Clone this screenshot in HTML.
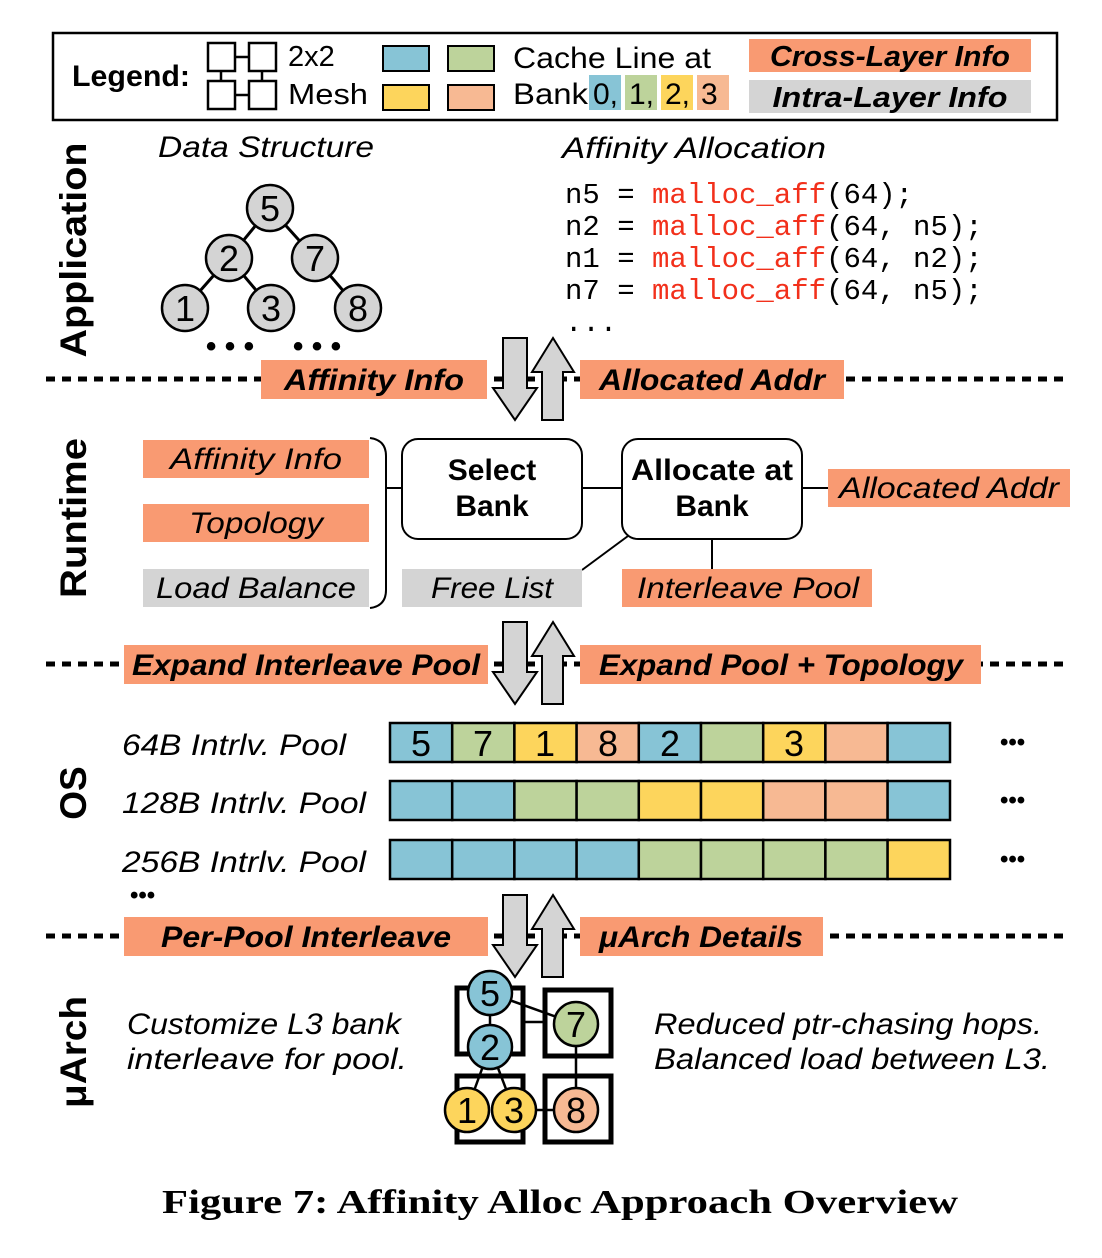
<!DOCTYPE html>
<html><head><meta charset="utf-8"><style>
html,body{margin:0;padding:0;background:#fff;width:1102px;height:1258px;overflow:hidden}
svg{display:block}
text{font-family:"Liberation Sans",sans-serif;fill:#000}
.b{font-weight:bold}
.i{font-style:italic}
.m{font-family:"Liberation Mono",monospace;font-size:29px}
.r{fill:#f2301b}
</style></head><body>
<svg width="1102" height="1258" viewBox="0 0 1102 1258" xmlns="http://www.w3.org/2000/svg">
<!-- Legend -->
<rect x="53" y="33" width="1004" height="87" fill="#fff" stroke="#000" stroke-width="2.5"/>
<text x="72" y="86" class="b" font-size="30" textLength="118" lengthAdjust="spacingAndGlyphs">Legend:</text>
<g fill="#fff" stroke="#000" stroke-width="2.5">
<rect x="208" y="43" width="27" height="28"/><rect x="249" y="43" width="27" height="28"/>
<rect x="208" y="81" width="27" height="28"/><rect x="249" y="81" width="27" height="28"/>
<line x1="235" y1="57" x2="249" y2="57"/><line x1="235" y1="95" x2="249" y2="95"/>
<line x1="221" y1="71" x2="221" y2="81"/><line x1="262" y1="71" x2="262" y2="81"/>
</g>
<text x="288" y="66" font-size="29">2x2</text>
<text x="288" y="104" font-size="29" textLength="80" lengthAdjust="spacingAndGlyphs">Mesh</text>
<g stroke="#000" stroke-width="2">
<rect x="383" y="46" width="46" height="25" fill="#87c4d6"/><rect x="448" y="46" width="46" height="25" fill="#bdd39b"/>
<rect x="383" y="85" width="46" height="25" fill="#fdd55c"/><rect x="448" y="85" width="46" height="25" fill="#f7b993"/>
</g>
<text x="513" y="68" font-size="30" textLength="198" lengthAdjust="spacingAndGlyphs">Cache Line at</text>
<text x="513" y="104" font-size="30" textLength="75" lengthAdjust="spacingAndGlyphs">Bank</text>
<rect x="589" y="75" width="32" height="35" fill="#87c4d6"/><rect x="625" y="75" width="32" height="35" fill="#bdd39b"/>
<rect x="661" y="75" width="32" height="35" fill="#fdd55c"/><rect x="697" y="75" width="32" height="35" fill="#f7b993"/>
<text x="593" y="104" font-size="30">0,</text><text x="629" y="104" font-size="30">1,</text>
<text x="665" y="104" font-size="30">2,</text><text x="701" y="104" font-size="30">3</text>
<rect x="749" y="39" width="282" height="33" fill="#f99a72"/>
<rect x="749" y="80" width="282" height="33" fill="#d4d4d4"/>
<text x="890" y="66" class="b i" font-size="29" text-anchor="middle" textLength="240" lengthAdjust="spacingAndGlyphs">Cross-Layer Info</text>
<text x="890" y="107" class="b i" font-size="29" text-anchor="middle" textLength="235" lengthAdjust="spacingAndGlyphs">Intra-Layer Info</text>

<!-- Layer labels -->
<text transform="translate(86,250) rotate(-90)" class="b" font-size="37" text-anchor="middle" textLength="215" lengthAdjust="spacingAndGlyphs">Application</text>
<text transform="translate(86,518) rotate(-90)" class="b" font-size="37" text-anchor="middle" textLength="160" lengthAdjust="spacingAndGlyphs">Runtime</text>
<text transform="translate(86,793) rotate(-90)" class="b" font-size="37" text-anchor="middle">OS</text>
<text transform="translate(86,1052) rotate(-90)" class="b" font-size="37" text-anchor="middle" textLength="112" lengthAdjust="spacingAndGlyphs">μArch</text>

<!-- Application -->
<text x="266" y="157" class="i" font-size="30" text-anchor="middle" textLength="216" lengthAdjust="spacingAndGlyphs">Data Structure</text>
<text x="694" y="158" class="i" font-size="30" text-anchor="middle" textLength="264" lengthAdjust="spacingAndGlyphs">Affinity Allocation</text>
<g stroke="#000" stroke-width="3">
<line x1="270" y1="208" x2="229" y2="258"/><line x1="270" y1="208" x2="315" y2="258"/>
<line x1="229" y1="258" x2="185" y2="308"/><line x1="229" y1="258" x2="271" y2="308"/><line x1="315" y1="258" x2="358" y2="308"/>
</g>
<g fill="#d4d4d4" stroke="#000" stroke-width="2.5">
<circle cx="270" cy="208" r="23"/><circle cx="229" cy="258" r="23"/><circle cx="315" cy="258" r="23"/>
<circle cx="185" cy="308" r="23"/><circle cx="271" cy="308" r="23"/><circle cx="358" cy="308" r="23"/>
</g>
<g font-size="36" text-anchor="middle">
<text x="270" y="221">5</text><text x="229" y="271">2</text><text x="315" y="271">7</text>
<text x="185" y="321">1</text><text x="271" y="321">3</text><text x="358" y="321">8</text>
</g>
<text x="230" y="356" class="b" font-size="30" text-anchor="middle">• • •</text>
<text x="317" y="356" class="b" font-size="30" text-anchor="middle">• • •</text>
<text x="565" y="203" class="m">n5 = <tspan class="r">malloc_aff</tspan>(64);</text>
<text x="565" y="235" class="m">n2 = <tspan class="r">malloc_aff</tspan>(64, n5);</text>
<text x="565" y="267" class="m">n1 = <tspan class="r">malloc_aff</tspan>(64, n2);</text>
<text x="565" y="299" class="m">n7 = <tspan class="r">malloc_aff</tspan>(64, n5);</text>
<text x="565" y="331" class="m">...</text>

<!-- dashed separators -->
<g stroke="#000" stroke-width="5" stroke-dasharray="9,7">
<line x1="46" y1="379" x2="1070" y2="379"/>
<line x1="46" y1="664" x2="1070" y2="664"/>
<line x1="46" y1="936" x2="1070" y2="936"/>
</g>

<!-- arrows -->
<g fill="#d4d4d4" stroke="#000" stroke-width="2">
<polygon points="503,338 527,338 527,388 537,388 515,420 493,388 503,388"/>
<polygon points="542,420 563,420 563,372 574,372 553,338 532,372 542,372"/>
<polygon points="503,622 527,622 527,672 537,672 515,704 493,672 503,672"/>
<polygon points="542,704 563,704 563,656 574,656 553,622 532,656 542,656"/>
<polygon points="503,895 527,895 527,945 537,945 515,977 493,945 503,945"/>
<polygon points="542,977 563,977 563,929 574,929 553,895 532,929 542,929"/>
</g>

<!-- cross-layer labels -->
<g fill="#f99a72">
<rect x="261" y="360" width="226" height="39"/><rect x="580" y="360" width="264" height="39"/>
<rect x="124" y="645" width="364" height="39"/><rect x="580" y="645" width="401" height="39"/>
<rect x="124" y="917" width="364" height="39"/><rect x="580" y="917" width="243" height="39"/>
</g>
<g class="b i" font-size="30" text-anchor="middle">
<text x="374" y="390" textLength="180" lengthAdjust="spacingAndGlyphs">Affinity Info</text>
<text x="712" y="390" textLength="226" lengthAdjust="spacingAndGlyphs">Allocated Addr</text>
<text x="306" y="675" textLength="348" lengthAdjust="spacingAndGlyphs">Expand Interleave Pool</text>
<text x="781" y="675" textLength="364" lengthAdjust="spacingAndGlyphs">Expand Pool + Topology</text>
<text x="306" y="947" textLength="290" lengthAdjust="spacingAndGlyphs">Per-Pool Interleave</text>
<text x="701" y="947" textLength="204" lengthAdjust="spacingAndGlyphs">μArch Details</text>
</g>

<!-- Runtime -->
<rect x="143" y="440" width="226" height="38" fill="#f99a72"/>
<rect x="143" y="504" width="226" height="38" fill="#f99a72"/>
<rect x="143" y="569" width="226" height="38" fill="#d4d4d4"/>
<g class="i" font-size="30" text-anchor="middle">
<text x="256" y="469" textLength="172" lengthAdjust="spacingAndGlyphs">Affinity Info</text>
<text x="256" y="533" textLength="134" lengthAdjust="spacingAndGlyphs">Topology</text>
<text x="256" y="598" textLength="200" lengthAdjust="spacingAndGlyphs">Load Balance</text>
</g>
<path d="M370,438 Q386,440 386,456 L386,590 Q386,606 370,608" fill="none" stroke="#000" stroke-width="2"/>
<g stroke="#000" stroke-width="2">
<line x1="386" y1="488" x2="402" y2="488"/>
<line x1="582" y1="488" x2="622" y2="488"/>
<line x1="802" y1="488" x2="828" y2="488"/>
<line x1="628" y1="536" x2="582" y2="570"/>
<line x1="712" y1="539" x2="712" y2="569"/>
</g>
<rect x="402" y="439" width="180" height="100" rx="16" fill="#fff" stroke="#000" stroke-width="2"/>
<rect x="622" y="439" width="180" height="100" rx="16" fill="#fff" stroke="#000" stroke-width="2"/>
<g class="b" font-size="30" text-anchor="middle">
<text x="492" y="480">Select</text><text x="492" y="516">Bank</text>
<text x="712" y="480" textLength="162" lengthAdjust="spacingAndGlyphs">Allocate at</text><text x="712" y="516">Bank</text>
</g>
<rect x="402" y="569" width="180" height="38" fill="#d4d4d4"/>
<rect x="622" y="569" width="250" height="38" fill="#f99a72"/>
<rect x="828" y="469" width="242" height="38" fill="#f99a72"/>
<g class="i" font-size="30" text-anchor="middle">
<text x="492" y="598" textLength="122" lengthAdjust="spacingAndGlyphs">Free List</text>
<text x="748" y="598" textLength="222" lengthAdjust="spacingAndGlyphs">Interleave Pool</text>
<text x="949" y="498" textLength="220" lengthAdjust="spacingAndGlyphs">Allocated Addr</text>
</g>

<!-- OS pools -->
<g class="i" font-size="30">
<text x="122" y="755" textLength="224" lengthAdjust="spacingAndGlyphs">64B Intrlv. Pool</text>
<text x="122" y="813" textLength="244" lengthAdjust="spacingAndGlyphs">128B Intrlv. Pool</text>
<text x="122" y="872" textLength="244" lengthAdjust="spacingAndGlyphs">256B Intrlv. Pool</text>
</g>
<g stroke="#000" stroke-width="2.5">
<rect x="390" y="723" width="62.2" height="39" fill="#87c4d6"/><rect x="452.2" y="723" width="62.2" height="39" fill="#bdd39b"/>
<rect x="514.4" y="723" width="62.2" height="39" fill="#fdd55c"/><rect x="576.6" y="723" width="62.2" height="39" fill="#f7b993"/>
<rect x="638.8" y="723" width="62.2" height="39" fill="#87c4d6"/><rect x="701" y="723" width="62.2" height="39" fill="#bdd39b"/>
<rect x="763.2" y="723" width="62.2" height="39" fill="#fdd55c"/><rect x="825.4" y="723" width="62.2" height="39" fill="#f7b993"/>
<rect x="887.6" y="723" width="62.4" height="39" fill="#87c4d6"/>

<rect x="390" y="781" width="62.2" height="39" fill="#87c4d6"/><rect x="452.2" y="781" width="62.2" height="39" fill="#87c4d6"/>
<rect x="514.4" y="781" width="62.2" height="39" fill="#bdd39b"/><rect x="576.6" y="781" width="62.2" height="39" fill="#bdd39b"/>
<rect x="638.8" y="781" width="62.2" height="39" fill="#fdd55c"/><rect x="701" y="781" width="62.2" height="39" fill="#fdd55c"/>
<rect x="763.2" y="781" width="62.2" height="39" fill="#f7b993"/><rect x="825.4" y="781" width="62.2" height="39" fill="#f7b993"/>
<rect x="887.6" y="781" width="62.4" height="39" fill="#87c4d6"/>

<rect x="390" y="840" width="62.2" height="39" fill="#87c4d6"/><rect x="452.2" y="840" width="62.2" height="39" fill="#87c4d6"/>
<rect x="514.4" y="840" width="62.2" height="39" fill="#87c4d6"/><rect x="576.6" y="840" width="62.2" height="39" fill="#87c4d6"/>
<rect x="638.8" y="840" width="62.2" height="39" fill="#bdd39b"/><rect x="701" y="840" width="62.2" height="39" fill="#bdd39b"/>
<rect x="763.2" y="840" width="62.2" height="39" fill="#bdd39b"/><rect x="825.4" y="840" width="62.2" height="39" fill="#bdd39b"/>
<rect x="887.6" y="840" width="62.4" height="39" fill="#fdd55c"/>
</g>
<g font-size="36" text-anchor="middle">
<text x="421" y="756">5</text><text x="483" y="756">7</text><text x="545" y="756">1</text>
<text x="608" y="756">8</text><text x="670" y="756">2</text><text x="794" y="756">3</text>
</g>
<g class="b" font-size="24">
<text x="1000" y="750">•••</text><text x="1000" y="808">•••</text><text x="1000" y="867">•••</text>
<text x="130" y="903">•••</text>
</g>

<!-- uArch -->
<text x="127" y="1034" class="i" font-size="30" textLength="274" lengthAdjust="spacingAndGlyphs">Customize L3 bank</text>
<text x="127" y="1069" class="i" font-size="30" textLength="280" lengthAdjust="spacingAndGlyphs">interleave for pool.</text>
<text x="654" y="1034" class="i" font-size="30" textLength="388" lengthAdjust="spacingAndGlyphs">Reduced ptr-chasing hops.</text>
<text x="654" y="1069" class="i" font-size="30" textLength="396" lengthAdjust="spacingAndGlyphs">Balanced load between L3.</text>
<g fill="#fff" stroke="#000" stroke-width="5">
<rect x="457" y="988" width="66" height="66"/><rect x="545" y="990" width="66" height="66"/>
<rect x="457" y="1076" width="66" height="66"/><rect x="545" y="1076" width="66" height="66"/>
</g>
<g stroke="#000" stroke-width="2.5">
<line x1="523" y1="1022" x2="545" y2="1022"/>
<line x1="490" y1="993" x2="576" y2="1024"/>
<line x1="490" y1="993" x2="490" y2="1047"/>
<line x1="490" y1="1047" x2="467" y2="1110"/>
<line x1="490" y1="1047" x2="514" y2="1110"/>
<line x1="576" y1="1024" x2="576" y2="1110"/>
<line x1="514" y1="1110" x2="576" y2="1110"/>
</g>
<g stroke="#000" stroke-width="2.5">
<circle cx="490" cy="993" r="22" fill="#87c4d6"/><circle cx="490" cy="1047" r="22" fill="#87c4d6"/>
<circle cx="576" cy="1024" r="22" fill="#bdd39b"/>
<circle cx="467" cy="1110" r="22" fill="#fdd55c"/><circle cx="514" cy="1110" r="22" fill="#fdd55c"/>
<circle cx="576" cy="1110" r="22" fill="#f7b993"/>
</g>
<g font-size="36" text-anchor="middle">
<text x="490" y="1006">5</text><text x="490" y="1060">2</text><text x="576" y="1037">7</text>
<text x="467" y="1123">1</text><text x="514" y="1123">3</text><text x="576" y="1123">8</text>
</g>

<!-- caption -->
<text x="560" y="1213" font-weight="bold" font-size="34" text-anchor="middle" textLength="796" lengthAdjust="spacingAndGlyphs" style="font-family:'Liberation Serif',serif">Figure 7: Affinity Alloc Approach Overview</text>
</svg>
</body></html>
